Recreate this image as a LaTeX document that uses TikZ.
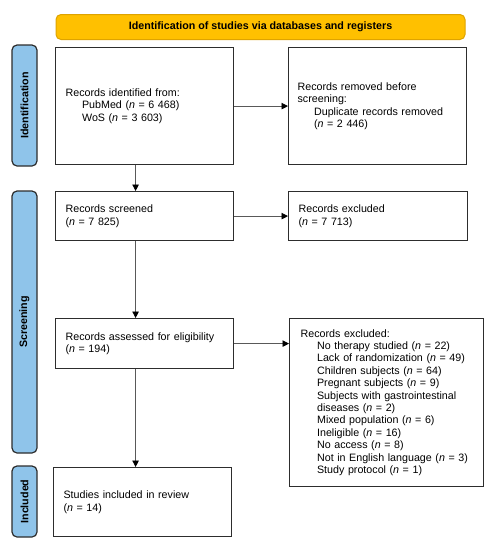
\documentclass[tikz,border=0pt]{standalone}
\usepackage{fontspec}
\setmainfont{Liberation Sans}
\usetikzlibrary{arrows.meta,calc}
\definecolor{bluebar}{RGB}{143,196,234}
\definecolor{bannerfill}{RGB}{255,192,0}
\definecolor{bannerline}{RGB}{222,163,0}
\definecolor{boxline}{RGB}{45,45,45}
\newcommand{\ind}{\hspace*{16.5pt}}
\begin{document}
\begin{tikzpicture}[x=1pt,y=-1pt,
  box/.style={draw=boxline, line width=1.2pt, fill=white, align=left, anchor=north west,
    inner xsep=10pt, inner ysep=0pt, font=\fontsize{10.7}{12.4}\selectfont},
  sidebar/.style={draw=boxline, line width=1.2pt, fill=bluebar, rounded corners=5pt,
    rotate=90, minimum height=25pt, inner sep=0pt, font=\fontsize{10.7}{12.4}\selectfont\bfseries},
  bannerbox/.style={draw=bannerline, line width=1pt, fill=bannerfill, rounded corners=5pt,
    minimum width=409pt, minimum height=25pt, inner sep=0pt, font=\fontsize{10.7}{12.4}\selectfont\bfseries},
  conn/.style={draw=black!65, line width=0.9pt, -{Triangle[length=6.5pt,width=6.5pt,color=black]}}]
\useasboundingbox (0,0) rectangle (496,550);
\node[bannerbox] (ban) at (260.5,27) {Identification of studies via databases and registers};
\node[sidebar, minimum width=121pt] (s1) at (24.5,105.5) {Identification};
\node[sidebar, minimum width=262pt] (s2) at (24.5,322) {Screening};
\node[sidebar, minimum width=71pt] (s3) at (24.5,501.5) {Included};
\node[box, text width=158pt, minimum height=117pt] (b1) at (55,47)
  {Records identified from:\\ \ind PubMed (\textit{n} = 6 468)\\ \ind WoS (\textit{n} = 3 603)};
\node[box, text width=160pt, minimum height=117pt, inner xsep=9pt] (b2) at (288,47)
  {Records removed before\\ screening:\\ \ind Duplicate records removed\\ \ind (\textit{n} = 2 446)};
\node[box, text width=158pt, minimum height=49pt] (b3) at (55,191)
  {Records screened\\ (\textit{n} = 7 825)};
\node[box, text width=159pt, minimum height=49pt] (b4) at (288,191)
  {Records excluded\\ (\textit{n} = 7 713)};
\node[box, text width=158pt, minimum height=50pt] (b5) at (55,318)
  {Records assessed for eligibility\\ (\textit{n} = 194)};
\node[box, minimum height=168pt, inner xsep=11pt, text width=172pt] (b6) at (289,318)
  {Records excluded:\\
   \ind No therapy studied (\textit{n} = 22)\\
   \ind Lack of randomization (\textit{n} = 49)\\
   \ind Children subjects (\textit{n} = 64)\\
   \ind Pregnant subjects (\textit{n} = 9)\\
   \ind Subjects with gastrointestinal\\
   \ind diseases (\textit{n} = 2)\\
   \ind Mixed population (\textit{n} = 6)\\
   \ind Ineligible (\textit{n} = 16)\\
   \ind No access (\textit{n} = 8)\\
   \ind Not in English language (\textit{n} = 3)\\
   \ind Study protocol (\textit{n} = 1)};
\node[box, text width=158pt, minimum height=69pt] (b7) at (53,467)
  {Studies included in review\\ (\textit{n} = 14)};
\draw[conn] (b1.east) -- (b2.west);
\draw[conn] (b3.east) -- (b4.west);
\draw[conn] (b5.east) -- (b5.east -| b6.west);
\draw[conn] ([xshift=-9pt]b1.south) -- ([xshift=-9pt]b1.south |- b3.north);
\draw[conn] ([xshift=-9pt]b3.south) -- ([xshift=-9pt]b3.south |- b5.north);
\draw[conn] ([xshift=-9pt]b5.south) -- ([xshift=-9pt]b5.south |- b7.north);
\end{tikzpicture}
\end{document}
